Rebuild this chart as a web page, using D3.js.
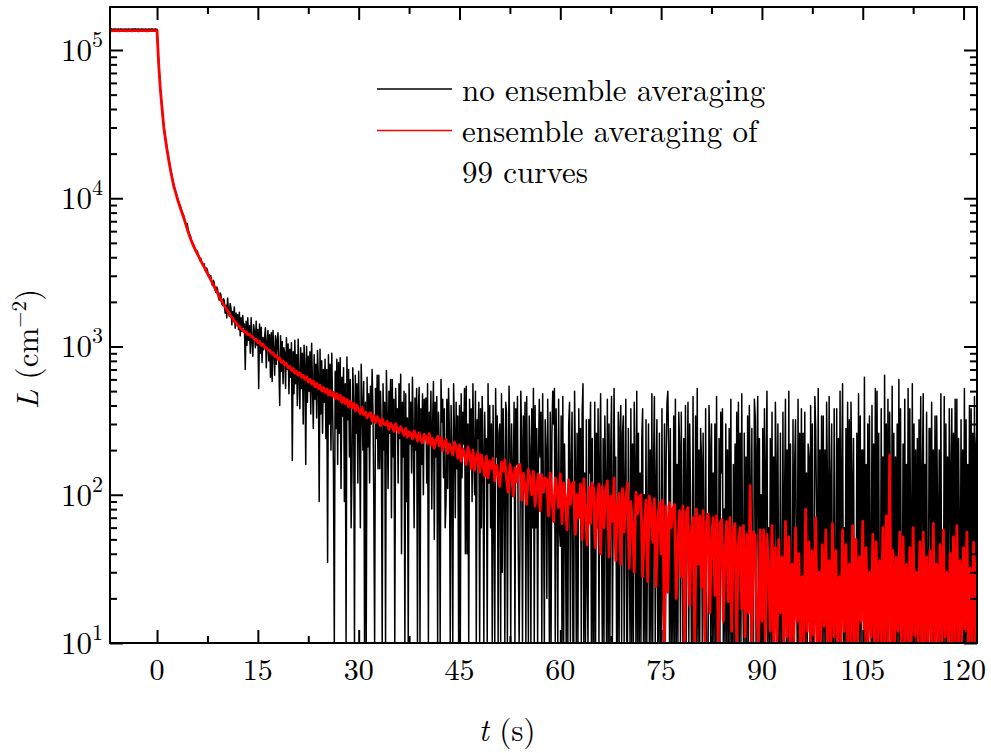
<!DOCTYPE html>
<html>
<head>
<meta charset="utf-8">
<script src="https://cdn.jsdelivr.net/npm/d3@7"></script>
<style>
  body { margin: 0; background: #fff; }
</style>
</head>
<body>
<div id="chart"></div>
<script>
// sampling grids: t = tStart + i * step  (s)
var tStart = -7;
var singleRunStep = 0.125, averagedStep = 0.25;

// L (cm^-2), single run, no ensemble averaging (8 samples per second)
var singleRun = [
  138200, 137600, 138800, 137400, 138500, 137900, 138900, 137500,
  138300, 137700, 138600, 137300, 138400, 137800, 138700, 137600,
  138100, 137500, 138800, 137700, 138300, 137400, 138600, 137900,
  138200, 137600, 138700, 137800, 138500, 137700, 138900, 137600,
  138400, 137500, 138600, 137900, 138200, 137600, 138800, 137400,
  138300, 137800, 138700, 137500, 138100, 137700, 138600, 137800,
  138400, 137600, 138800, 137500, 138200, 137900, 138500, 137700,
  // t = 0
  138000, 100000, 81500, 65000, 54800, 47000, 41000, 35500,
  31000, 28000, 25500, 23400, 21600, 19800, 18300, 17100,
  15900, 14800, 13900, 13000, 12400, 11700, 11200, 10700,
  10300, 9750, 9350, 9100, 8800, 8350, 8050, 7800,
  7550, 7100, 6850, 6700, 6750, 6150, 5850, 5700,
  5500, 5200, 5080, 4850, 4830, 4600, 4520, 4300,
  4400, 4150, 4050, 3800, 3950, 3720, 3650, 3520,
  3620, 3300, 3200, 3380, 3280, 2980, 3050, 2900,
  3000, 2700, 2580, 2800, 2700, 2420, 2320, 2520,
  2450, 2150, 2060, 2300, 2230, 1950, 1890, 2100,
  // t = 10
  2050, 1680, 1900, 1560, 2120, 1720, 1600, 1950,
  1820, 1400, 1720, 1520, 1850, 1330, 1680, 1450,
  1640, 1300, 1700, 1180, 1560, 1260, 1620, 1350,
  1420, 700, 1480, 1020, 1560, 1100, 1380, 900,
  1560, 1100, 860, 1400, 1250, 980, 1480, 1020,
  1300, 520, 1420, 900, 1350, 780, 1150, 950,
  1150, 1340, 720, 1060, 1280, 800, 1200, 620,
  1240, 580, 1280, 940, 640, 1180, 760, 1100,
  1240, 760, 400, 1180, 680, 1080, 560, 980,
  900, 520, 1150, 700, 1040, 480, 960, 620,
  // t = 20
  1060, 170, 920, 480, 1100, 560, 880, 400,
  1120, 620, 380, 980, 520, 900, 300, 1020,
  760, 160, 1000, 420, 860, 500, 920, 350,
  1050, 560, 280, 880, 440, 760, 330, 940,
  640, 90, 960, 350, 800, 260, 700, 420,
  820, 240, 700, 35, 880, 300, 760, 200,
  900, 380, 150, 0, 680, 280, 820, 160,
  780, 260, 840, 110, 620, 340, 720, 90,
  560, 0, 850, 320, 700, 180, 600, 60,
  140, 720, 420, 0, 640, 260, 560, 120,
  // t = 30
  680, 300, 60, 760, 420, 200, 580, 0,
  420, 0, 620, 210, 480, 120, 540, 300,
  700, 380, 90, 0, 520, 240, 640, 150,
  640, 150, 500, 260, 0, 560, 200, 420,
  0, 690, 340, 110, 500, 260, 600, 70,
  600, 180, 440, 0, 520, 280, 380, 120,
  560, 240, 650, 40, 420, 180, 500, 0,
  480, 90, 330, 0, 560, 220, 420, 140,
  620, 260, 60, 450, 200, 520, 0, 380,
  530, 0, 380, 160, 480, 100, 440, 240,
  // t = 40
  450, 120, 560, 0, 360, 220, 500, 80,
  300, 580, 50, 420, 180, 460, 0, 360,
  200, 0, 600, 310, 440, 130, 380, 60,
  90, 440, 110, 520, 260, 0, 400, 180,
  0, 560, 270, 70, 420, 150, 340, 0,
  400, 0, 480, 130, 360, 220, 520, 40,
  540, 40, 300, 0, 440, 160, 380, 90,
  560, 180, 100, 500, 0, 320, 240, 420,
  0, 380, 60, 460, 200, 0, 360, 140,
  240, 0, 560, 120, 400, 60, 300, 0,
  // t = 50
  400, 80, 0, 520, 180, 340, 0, 260,
  300, 0, 480, 30, 380, 140, 0, 420,
  360, 0, 140, 540, 220, 0, 300, 100,
  110, 420, 0, 380, 160, 460, 40, 0,
  50, 500, 240, 0, 340, 120, 420, 0,
  460, 90, 0, 340, 200, 0, 380, 60,
  520, 0, 400, 60, 280, 0, 180, 440,
  180, 360, 0, 480, 90, 0, 320, 200,
  20, 440, 100, 0, 360, 0, 260, 500,
  300, 520, 0, 380, 120, 0, 440, 60,
  // t = 60
  45, 340, 0, 460, 0, 220, 80, 0,
  80, 0, 300, 420, 0, 160, 360, 0,
  0, 500, 160, 0, 260, 0, 380, 90,
  280, 0, 360, 560, 0, 140, 0, 320,
  25, 0, 320, 140, 420, 0, 240, 0,
  0, 420, 0, 260, 60, 380, 0, 180,
  480, 60, 0, 240, 0, 340, 120, 0,
  440, 0, 300, 0, 200, 460, 0, 90,
  520, 90, 180, 0, 0, 360, 0, 280,
  400, 0, 260, 340, 0, 120, 440, 0,
  // t = 70
  0, 280, 50, 0, 380, 0, 220, 0,
  420, 160, 0, 500, 0, 260, 0, 140,
  0, 240, 380, 0, 100, 0, 320, 0,
  70, 300, 0, 200, 0, 480, 0, 160,
  460, 0, 120, 320, 0, 0, 260, 0,
  0, 380, 20, 0, 300, 0, 180, 420,
  500, 200, 0, 280, 0, 80, 0, 340,
  0, 440, 0, 160, 0, 360, 220, 0,
  360, 60, 0, 240, 0, 400, 0, 120,
  420, 0, 300, 100, 0, 0, 460, 0,
  // t = 80
  0, 340, 0, 520, 0, 200, 0, 280,
  180, 0, 260, 40, 0, 380, 0, 0,
  0, 400, 220, 0, 300, 0, 140, 0,
  300, 0, 460, 0, 0, 240, 0, 360,
  140, 380, 0, 80, 0, 300, 0, 200,
  0, 280, 0, 440, 0, 0, 160, 0,
  220, 0, 360, 0, 420, 0, 260, 0,
  480, 30, 0, 260, 0, 180, 0, 340,
  0, 400, 120, 0, 280, 0, 0, 440,
  340, 0, 200, 460, 0, 240, 0, 100,
  // t = 90
  0, 280, 0, 380, 0, 160, 500, 0,
  60, 0, 240, 0, 360, 0, 180, 0,
  420, 160, 0, 300, 0, 0, 260, 0,
  0, 360, 0, 100, 440, 0, 200, 0,
  500, 0, 220, 0, 0, 320, 0, 160,
  320, 40, 0, 440, 0, 260, 0, 380,
  0, 260, 0, 360, 0, 140, 0, 220,
  180, 0, 400, 0, 300, 0, 0, 460,
  280, 80, 0, 520, 0, 200, 0, 340,
  0, 340, 0, 200, 0, 420, 120, 0,
  // t = 100
  460, 0, 120, 300, 0, 0, 380, 0,
  0, 380, 0, 240, 0, 500, 0, 160,
  560, 0, 60, 0, 280, 0, 420, 0,
  320, 0, 420, 140, 0, 240, 0, 0,
  0, 260, 0, 480, 0, 340, 0, 200,
  200, 0, 620, 0, 160, 0, 300, 0,
  340, 30, 0, 400, 0, 220, 0, 520,
  0, 500, 0, 260, 0, 0, 380, 0,
  180, 0, 640, 0, 300, 0, 440, 0,
  360, 100, 0, 540, 0, 260, 0, 180,
  // t = 110
  0, 300, 0, 600, 0, 380, 0, 0,
  220, 0, 440, 0, 160, 0, 520, 0,
  380, 60, 0, 560, 0, 300, 0, 200,
  0, 240, 0, 320, 0, 460, 0, 140,
  480, 0, 160, 0, 360, 0, 0, 280,
  280, 0, 420, 0, 200, 0, 340, 0,
  340, 90, 0, 200, 0, 480, 0, 0,
  0, 460, 0, 300, 0, 180, 0, 380,
  160, 0, 380, 0, 260, 0, 440, 0,
  440, 0, 240, 60, 0, 320, 0, 200,
  // t = 120
  0, 520, 0, 320, 0, 160, 0, 400,
  0, 380, 0, 260, 0, 460, 0, 220,
  300
];

// L (cm^-2), ensemble average of 99 curves (4 samples per second)
var averaged = [
  135000, 134800, 135300, 134900,  135100, 134700, 135200, 135000,
  134900, 135200, 134800, 135100,  135000, 134700, 135300, 134900,
  135100, 134800, 135200, 135000,  134900, 135100, 134800, 135200,
  135000, 134900, 135100, 135000,
  // t = 0
  135000, 79000, 53700, 40000,  30200, 25000, 21000, 18000,
  15500, 13600, 12000, 11000,  10000, 9200, 8500, 7900,
  7330, 6710, 6170, 5710,  5310, 4980, 4680, 4440,
  4220, 4000, 3800, 3610,  3440, 3270, 3110, 2960,
  2820, 2670, 2540, 2410,  2290, 2180, 2075, 1980,
  1880, 1810, 1740, 1670,
  // t = 11
  1590, 1550, 1475, 1455,  1385, 1370, 1310, 1300,
  1250, 1260, 1200, 1210,  1170, 1160, 1110, 1120,
  1060, 1080, 1020, 1040,  990, 985, 950, 945,
  900, 910, 860, 870,  820, 840, 780, 800,
  750, 770, 715, 735,
  // t = 20
  690, 710, 660, 680,  640, 665, 620, 640,
  600, 625, 575, 600,  560, 585, 535, 565,
  520, 548, 500, 530,  490, 515, 470, 505,
  465, 490, 445, 480,  440, 468, 418, 452,
  412, 440, 392, 428,  386, 415, 368, 402,
  // t = 30
  372, 352, 388, 346,  362, 330, 348, 358,
  315, 344, 306, 336,  318, 292, 326, 300,
  296, 312, 276, 304,  290, 268, 302, 278,
  262, 288, 270, 252,  280, 244, 266, 258,
  238, 270, 252, 230,  262, 236, 224, 256,
  // t = 40
  246, 222, 258, 216,  240, 206, 232, 248,
  214, 244, 198, 226,  236, 190, 220, 206,
  186, 226, 212, 176,  218, 168, 204, 186,
  160, 210, 188, 150,  200, 146, 178, 192,
  142, 186, 160, 134,  182, 130, 168, 150,
  // t = 50
  176, 124, 158, 138,  114, 166, 144, 172,
  128, 104, 160, 140,  98, 152, 122, 158,
  160, 92, 140, 112,  86, 148, 132, 100,
  144, 84, 116, 138,  78, 136, 104, 130,
  126, 72, 140, 94,  66, 130, 110, 82,
  // t = 60
  138, 64, 120, 96,  58, 126, 86, 116,
  122, 54, 100, 70,  118, 50, 128, 76,
  46, 112, 64, 120,  108, 44, 92, 118,
  40, 114, 60, 104,  124, 38, 98, 66,
  130, 36, 84, 102,  34, 110, 56, 96,
  // t = 70
  120, 32, 90, 62,  30, 104, 74, 96,
  100, 28, 58, 92,  26, 98, 80, 48,
  94, 24, 70, 88,  40, 92, 8, 84,
  22, 88, 60, 80,  86, 20, 44, 78,
  28, 84, 7, 76,  82, 18, 56, 70,
  // t = 80
  6, 80, 34, 72,  24, 78, 8, 66,
  74, 16, 52, 70,  21, 72, 7, 64,
  68, 14, 40, 66,  19, 70, 12, 58,
  64, 6, 46, 60,  17, 62, 11, 54,
  16, 115, 10, 56,  52, 15, 6, 58,
  // t = 90
  14, 58, 8, 54,  30, 12, 62, 9,
  44, 7, 50, 16,  38, 6, 66, 11,
  52, 9, 34, 5,  60, 14, 40, 7,
  28, 8, 80, 12,  48, 5, 42, 10,
  70, 9, 30, 6,  46, 13, 58, 8,
  // t = 100
  36, 5, 64, 11,  42, 8, 28, 6,
  58, 12, 46, 5,  34, 7, 62, 9,
  50, 5, 38, 14,  66, 8, 44, 6,
  30, 11, 54, 5,  48, 6, 36, 9,
  60, 10, 72, 7,  185, 8, 42, 5,
  // t = 110
  38, 12, 56, 6,  52, 5, 34, 9,
  44, 7, 60, 11,  30, 5, 48, 8,
  56, 9, 38, 5,  42, 6, 64, 10,
  34, 8, 46, 5,  58, 11, 30, 7,
  40, 5, 52, 9,  62, 8, 36, 6,
  // t = 120
  44, 12, 56, 5,  32, 7, 48, 9,
  40
];

var xMajorTicks = [0, 15, 30, 45, 60, 75, 90, 105, 120];
var xMinorTicks = [7.5, 22.5, 37.5, 52.5, 67.5, 82.5, 97.5, 112.5];
var yMajorTicks = [1e1, 1e2, 1e3, 1e4, 1e5];
var yTickExponents = ["1", "2", "3", "4", "5"];
var legendEntries = [
  { color: "#000", lines: ["no ensemble averaging"] },
  { color: "#ff0000", lines: ["ensemble averaging of", "99 curves"] }
];

var width = 991, height = 753;
var margin = { top: 7, left: 110, right: 14, bottom: 110 };
var plotW = width - margin.left - margin.right;
var plotH = height - margin.top - margin.bottom;
var fontFam = "'Latin Modern Roman', 'Liberation Serif', serif";

var svg = d3.select("#chart").append("svg")
  .attr("width", width)
  .attr("height", height)
  .style("font-family", fontFam);

var g = svg.append("g")
  .attr("transform", "translate(" + margin.left + "," + margin.top + ")");

var xScale = d3.scaleLinear().domain([-7, 122]).range([0, plotW]);
var yScale = d3.scaleLog().domain([10, 1.95e5]).range([plotH, 0]).clamp(true);

// minor log ticks 2..9 per decade
var yMinorTicks = [];
yMajorTicks.forEach(function(dec) {
  for (var m = 2; m <= 9; m++) {
    var v = m * dec;
    if (v < yScale.domain()[1]) yMinorTicks.push(v);
  }
});

g.append("clipPath").attr("id", "plotClip")
  .append("rect").attr("width", plotW).attr("height", plotH);

function toPoints(arr, step) {
  return arr.map(function(v, i) { return { t: tStart + i * step, L: v }; });
}

var line = d3.line()
  .x(function(d) { return xScale(d.t); })
  .y(function(d) { return yScale(d.L); });

var curves = g.append("g").attr("clip-path", "url(#plotClip)");

curves.append("path")
  .attr("d", line(toPoints(singleRun, singleRunStep)))
  .attr("fill", "none")
  .attr("stroke", "#000")
  .attr("stroke-width", 1.5)
  .attr("stroke-linejoin", "round");

curves.append("path")
  .attr("d", line(toPoints(averaged, averagedStep)))
  .attr("fill", "none")
  .attr("stroke", "#ff0000")
  .attr("stroke-width", 2.8)
  .attr("stroke-linejoin", "round");

//////////////////// axes (ticks pointing inward) ////////////////////
var majorLen = 13, minorLen = 7;

function tickGroup(axis, transform) {
  var a = g.append("g").attr("transform", transform).call(axis);
  a.select(".domain").remove();
  a.selectAll("line").attr("stroke", "#000").attr("stroke-width", 2);
  a.selectAll("text").remove();
  return a;
}

tickGroup(d3.axisBottom(xScale).tickValues(xMajorTicks).tickSize(-majorLen), "translate(0," + plotH + ")");
tickGroup(d3.axisBottom(xScale).tickValues(xMinorTicks).tickSize(-minorLen), "translate(0," + plotH + ")");
tickGroup(d3.axisTop(xScale).tickValues(xMajorTicks).tickSize(-majorLen), "translate(0,0)");
tickGroup(d3.axisTop(xScale).tickValues(xMinorTicks).tickSize(-minorLen), "translate(0,0)");
tickGroup(d3.axisLeft(yScale).tickValues(yMajorTicks).tickSize(-majorLen), "translate(0,0)");
tickGroup(d3.axisLeft(yScale).tickValues(yMinorTicks).tickSize(-minorLen), "translate(0,0)");
tickGroup(d3.axisRight(yScale).tickValues(yMajorTicks).tickSize(-majorLen), "translate(" + plotW + ",0)");
tickGroup(d3.axisRight(yScale).tickValues(yMinorTicks).tickSize(-minorLen), "translate(" + plotW + ",0)");

g.append("rect")
  .attr("width", plotW)
  .attr("height", plotH)
  .attr("fill", "none")
  .attr("stroke", "#000")
  .attr("stroke-width", 2);

// tick labels
g.selectAll(".xlabel")
  .data(xMajorTicks)
  .enter().append("text")
  .attr("class", "xlabel")
  .attr("x", function(d) { return xScale(d); })
  .attr("y", plotH + 37)
  .attr("text-anchor", "middle")
  .attr("font-size", 30)
  .text(function(d) { return d; });

var ylab = g.selectAll(".ylabel")
  .data(yMajorTicks)
  .enter().append("text")
  .attr("class", "ylabel")
  .attr("x", -7)
  .attr("y", function(d) { return yScale(d) + 11; })
  .attr("text-anchor", "end")
  .attr("font-size", 31);
ylab.append("tspan").text("10");
ylab.append("tspan")
  .attr("dy", -14)
  .attr("font-size", 22)
  .text(function(d, i) { return yTickExponents[i]; });

// axis titles
var xTitle = svg.append("text")
  .attr("x", 507)
  .attr("y", 741)
  .attr("text-anchor", "middle")
  .attr("font-size", 31);
xTitle.append("tspan").attr("font-style", "italic").text("t");
xTitle.append("tspan").text(" (s)");

var yTitle = svg.append("text")
  .attr("transform", "translate(38,349) rotate(-90)")
  .attr("text-anchor", "middle")
  .attr("font-size", 31);
yTitle.append("tspan").attr("font-style", "italic").text("L");
yTitle.append("tspan").text(" (cm");
yTitle.append("tspan").attr("dy", -12).attr("font-size", 21).text("\u22122");
yTitle.append("tspan").attr("dy", 12).text(")");

//////////////////// legend ////////////////////
var legend = svg.append("g").attr("class", "legend");
var rowY = [89, 130.5];
legendEntries.forEach(function(e, i) {
  legend.append("line")
    .attr("x1", 377).attr("x2", 452)
    .attr("y1", rowY[i]).attr("y2", rowY[i])
    .attr("stroke", e.color)
    .attr("stroke-width", 1.5);
  e.lines.forEach(function(s, j) {
    legend.append("text")
      .attr("x", 462)
      .attr("y", rowY[i] + 11.5 + j * 41.3)
      .attr("font-size", 31)
      .text(s);
  });
});
</script>
</body>
</html>
